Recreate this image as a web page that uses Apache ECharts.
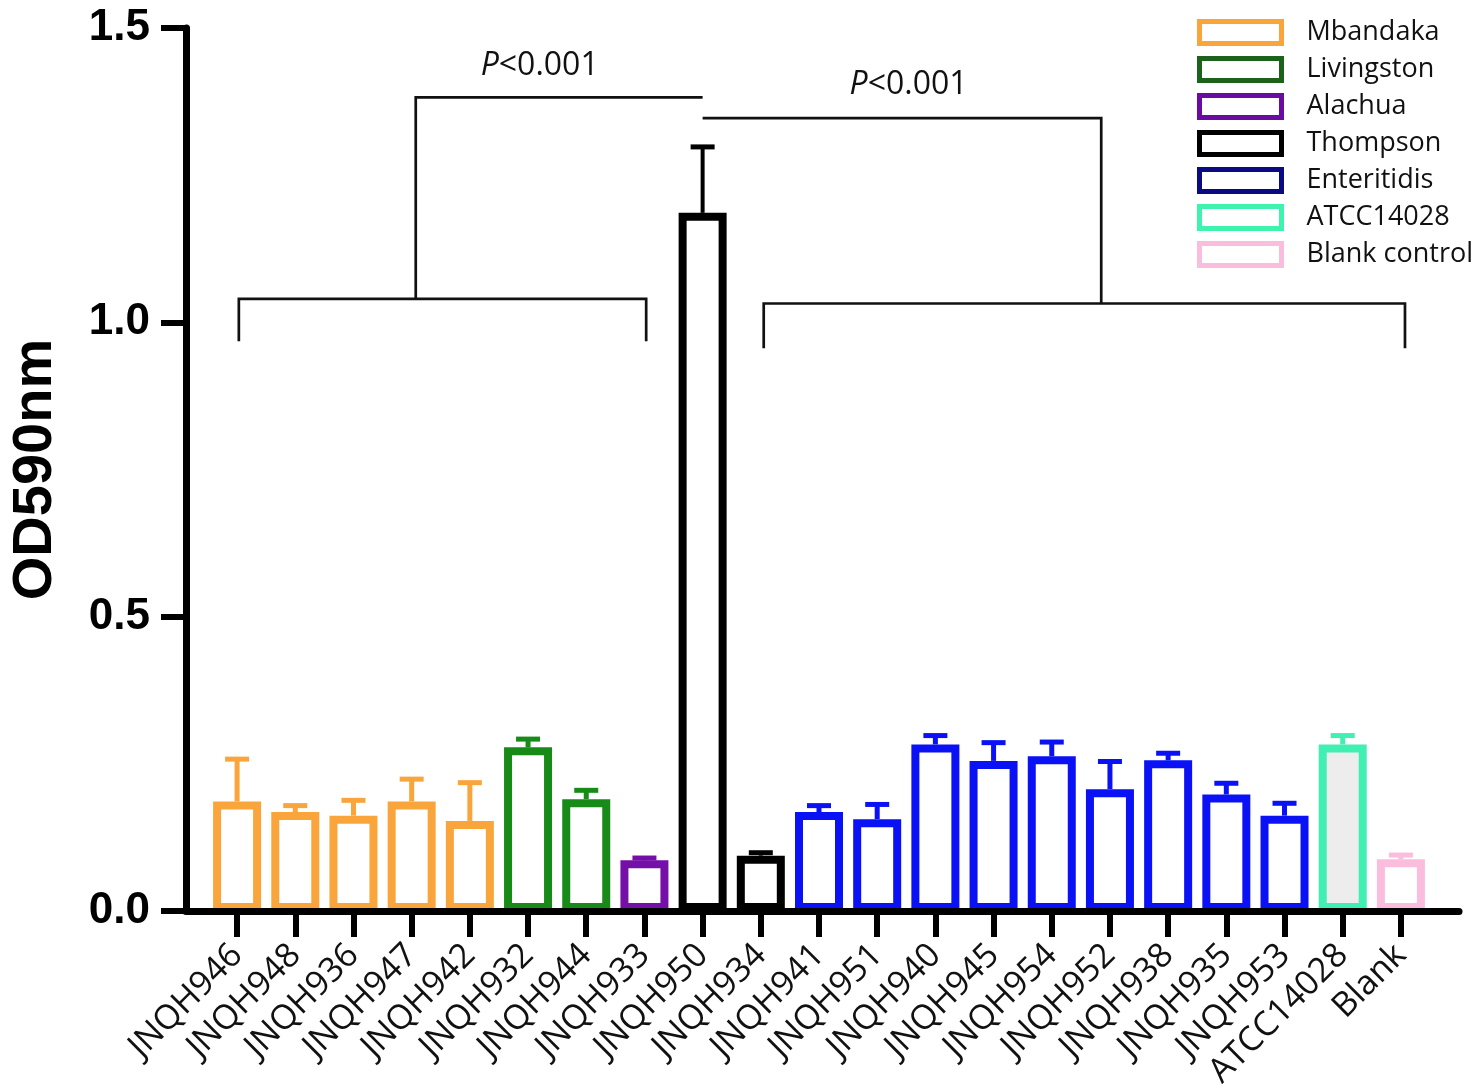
<!DOCTYPE html>
<html><head><meta charset="utf-8">
<script src="https://cdn.jsdelivr.net/npm/echarts@6/dist/echarts.min.js"></script>
<style>html,body{margin:0;padding:0;background:#fff}#c{width:1476px;height:1086px}</style>
</head><body><div id="c"></div>
<script>
// ---- data ----
const categories = ['JNQH946','JNQH948','JNQH936','JNQH947','JNQH942','JNQH932','JNQH944','JNQH933','JNQH950','JNQH934','JNQH941','JNQH951','JNQH940','JNQH945','JNQH954','JNQH952','JNQH938','JNQH935','JNQH953','ATCC14028','Blank'];
const means    = [0.186,0.168,0.162,0.186,0.153,0.278,0.190,0.086,1.186,0.094,0.168,0.156,0.283,0.255,0.263,0.207,0.256,0.198,0.162,0.283,0.088];
const errUpper = [0.258,0.179,0.188,0.224,0.218,0.292,0.205,0.090,1.298,0.099,0.179,0.181,0.298,0.286,0.287,0.254,0.268,0.217,0.183,0.298,0.095];
const groupOf  = ['Mbandaka','Mbandaka','Mbandaka','Mbandaka','Mbandaka','Livingston','Livingston','Alachua','Thompson','Thompson','Enteritidis','Enteritidis','Enteritidis','Enteritidis','Enteritidis','Enteritidis','Enteritidis','Enteritidis','Enteritidis','ATCC14028','Blank control'];
const groups   = ['Mbandaka','Livingston','Alachua','Thompson','Enteritidis','ATCC14028','Blank control'];
const yTicks   = [0, 0.5, 1.0, 1.5];
// significance brackets: category-index and value units
const bracketFrom = [0.03, 9.05];
const bracketTo   = [7.03, 20.07];
const bracketMid  = [3.07, 14.85];
const bracketTopEnd = [8, 8];
const bracketBarY = [1.040, 1.032];
const bracketLegY = [0.968, 0.956];
const bracketTopY = [1.382, 1.347];
const pLabels     = ['P<0.001', 'P<0.001'];
const pLabelX     = [5.2, 11.54];
const pLabelY     = [1.435, 1.403];

// ---- styles ----
const barColor = {'Mbandaka':'#F9A53C','Livingston':'#178A17','Alachua':'#7410A8','Thompson':'#000000','Enteritidis':'#0A12F5','ATCC14028':'#40F0B2','Blank control':'#FBBDDD'};
const legendColor = {'Mbandaka':'#F9A53C','Livingston':'#1C611C','Alachua':'#6A0CA2','Thompson':'#000000','Enteritidis':'#0A0A82','ATCC14028':'#3FF3AF','Blank control':'#FBBDDD'};
const fillColor = {'ATCC14028':'#EDEDED'};
const FONT = 'Open Sans';

const chart = echarts.init(document.getElementById('c'), null, {renderer:'canvas'});

const barSeries = groups.map(g => ({
  type:'bar', name:g, xAxisIndex:0, yAxisIndex:0,
  barWidth:48, barGap:'-100%',
  data: means.map((v,i) => groupOf[i] === g ? v : '-'),
  itemStyle:{color: fillColor[g] || '#ffffff', borderColor: barColor[g], borderWidth:8},
  z:2
}));

const errSeries = {
  type:'custom', xAxisIndex:0, yAxisIndex:0, z:3,
  data: categories.map((c,i) => [i, means[i], errUpper[i]]),
  encode:{x:0, y:[1,2]},
  renderItem:(params, api) => {
    const i = api.value(0);
    const base = api.coord([i, api.value(1)]);
    const top = api.coord([i, api.value(2)]);
    const col = barColor[groupOf[i]];
    const lw = groupOf[i] === 'Thompson' ? 4 : 5;
    return {type:'group', children:[
      {type:'line', shape:{x1:base[0], y1:base[1], x2:top[0], y2:top[1]}, style:{stroke:col, lineWidth:lw}},
      {type:'line', shape:{x1:top[0]-12, y1:top[1], x2:top[0]+12, y2:top[1]}, style:{stroke:col, lineWidth:5}}
    ]};
  }
};

const bracketSeries = {
  type:'custom', xAxisIndex:0, yAxisIndex:0, z:4, silent:true,
  data: bracketFrom.map((v,i) => [i]),
  renderItem:(params, api) => {
    const k = params.dataIndex;
    const x0 = api.coord([0, 0])[0];
    const bw = api.size([1, 0])[0];
    const X = v => x0 + v * bw;
    const Y = v => api.coord([0, v])[1];
    const st = {stroke:'#111', lineWidth:2.7, fill:null};
    const txt = pLabels[k];
    return {type:'group', children:[
      {type:'polyline', shape:{points:[[X(bracketFrom[k]),Y(bracketLegY[k])],[X(bracketFrom[k]),Y(bracketBarY[k])],[X(bracketTo[k]),Y(bracketBarY[k])],[X(bracketTo[k]),Y(bracketLegY[k])]]}, style:st},
      {type:'polyline', shape:{points:[[X(bracketMid[k]),Y(bracketBarY[k])],[X(bracketMid[k]),Y(bracketTopY[k])],[X(bracketTopEnd[k]),Y(bracketTopY[k])]]}, style:st},
      {type:'text', x:X(pLabelX[k]), y:Y(pLabelY[k]), style:{
        text:'{i|' + txt.charAt(0) + '}' + txt.slice(1),
        rich:{i:{fontStyle:'italic', fontSize:32, fontFamily:FONT, fill:'#111'}},
        fontSize:32, fontFamily:FONT, fill:'#111', align:'center', verticalAlign:'middle'}}
    ]};
  }
};

// long x-axis baseline
const baseSeries = {type:'line', xAxisIndex:1, yAxisIndex:1, data:[], silent:true};

chart.setOption({
  animation:false,
  backgroundColor:'#ffffff',
  grid:[
    {left:208, right:46, top:28, bottom:175, containLabel:false, outerBoundsMode:'none'},
    {left:186, right:17, top:28, bottom:175, containLabel:false, outerBoundsMode:'none'}
  ],
  legend:{
    orient:'vertical', left:1192, top:14, itemWidth:82, itemHeight:22, itemGap:10, icon:'rect',
    textStyle:{fontFamily:FONT, fontSize:27, color:'#111', padding:[0,0,0,20], lineHeight:26},
    data: groups.map(g => ({name:g, icon:'rect', itemStyle:{color:'#ffffff', borderColor:legendColor[g], borderWidth:5}}))
  },
  xAxis:[
    {type:'category', gridIndex:0, data:categories,
     axisLine:{show:false},
     axisTick:{show:true, alignWithLabel:true, length:26, lineStyle:{color:'#000', width:6}},
     axisLabel:{rotate:45, margin:39, interval:0, fontFamily:FONT, fontSize:34, color:'#111'},
     splitLine:{show:false}},
    {type:'value', gridIndex:1, min:0, max:1, z:10,
     axisLine:{show:true, onZero:false, lineStyle:{color:'#000', width:7}},
     axisTick:{show:false}, axisLabel:{show:false}, splitLine:{show:false}}
  ],
  yAxis:[
    {type:'value', gridIndex:0, min:yTicks[0], max:yTicks[yTicks.length-1], interval:yTicks[1]-yTicks[0], offset:22, z:10,
     name:'OD590nm', nameLocation:'middle', nameGap:122, nameRotate:90,
     nameTextStyle:{fontFamily:'Liberation Sans', fontWeight:'bold', fontSize:56, color:'#000'},
     axisLine:{show:true, lineStyle:{color:'#000', width:7}},
     axisTick:{show:true, length:25, lineStyle:{color:'#000', width:6}},
     axisLabel:{margin:36, fontFamily:'Liberation Sans', fontWeight:'bold', fontSize:44, color:'#000', formatter:v => v.toFixed(1)},
     splitLine:{show:false}},
    {type:'value', gridIndex:1, min:0, max:1, show:false}
  ],
  series:[...barSeries, errSeries, bracketSeries, baseSeries]
});
</script></body></html>
